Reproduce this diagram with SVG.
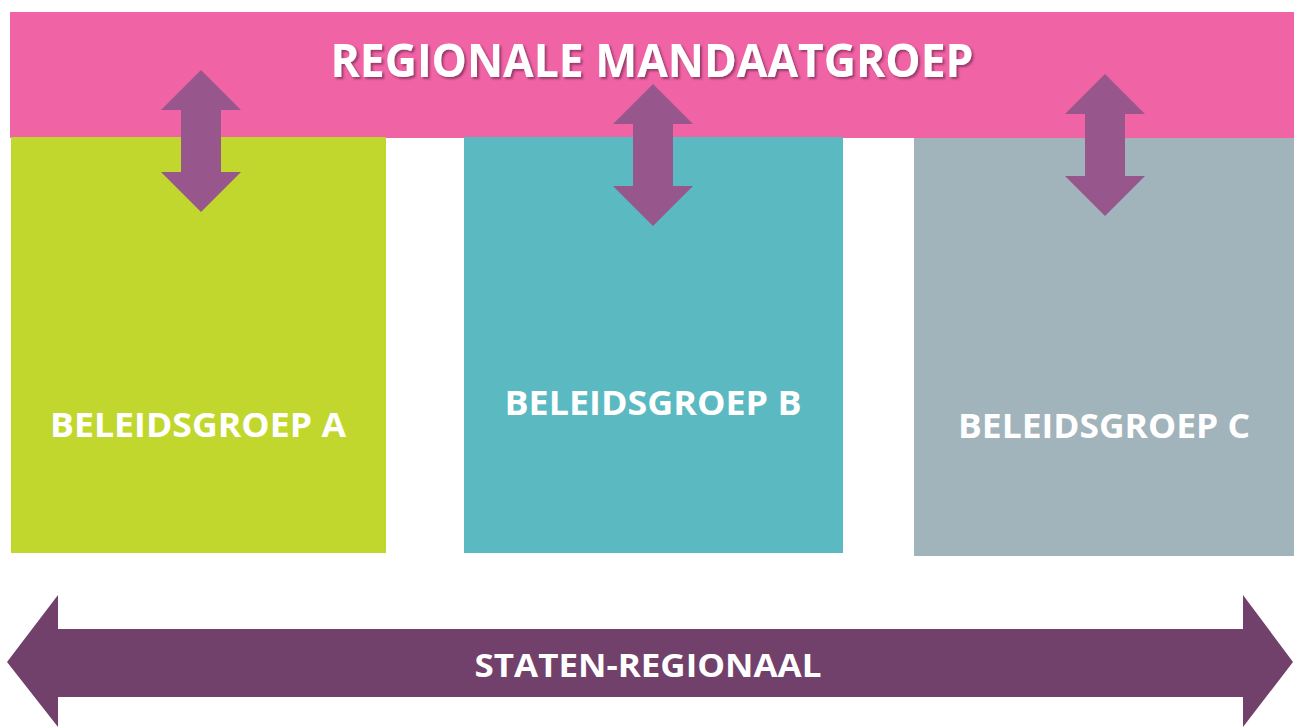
<svg xmlns="http://www.w3.org/2000/svg" width="1294" height="727" viewBox="0 0 1294 727">
  <style>
    .lbl { font-family: "Open Sans", "Liberation Sans", sans-serif; font-weight: bold; fill: #ffffff; text-anchor: middle; }
    .updown { fill: #97578D; }
  </style>
  <defs>
    <filter id="shadow" x="-5%" y="-20%" width="110%" height="150%">
      <feDropShadow dx="2" dy="2" stdDeviation="1.2" flood-color="#5a2040" flood-opacity="0.6"/>
    </filter>
  </defs>
  <rect width="1294" height="727" fill="#ffffff"/>

  <g id="mandaatgroep">
    <rect x="10" y="12" width="1284" height="126" fill="#F063A4"/>
    <text class="lbl" x="652" y="77" font-size="47" textLength="643" lengthAdjust="spacingAndGlyphs" filter="url(#shadow)">REGIONALE MANDAATGROEP</text>
  </g>

  <g id="beleidsgroep-a">
    <rect x="11" y="137" width="375" height="416" fill="#C2D72D"/>
    <text class="lbl" x="198" y="437" font-size="34" textLength="296" lengthAdjust="spacingAndGlyphs">BELEIDSGROEP A</text>
  </g>

  <g id="beleidsgroep-b">
    <rect x="464" y="137" width="379" height="416" fill="#5AB9C1"/>
    <text class="lbl" x="653" y="415" font-size="34" textLength="297" lengthAdjust="spacingAndGlyphs">BELEIDSGROEP B</text>
  </g>

  <g id="beleidsgroep-c">
    <rect x="914" y="138" width="380" height="418" fill="#A1B3BB"/>
    <text class="lbl" x="1104" y="438" font-size="34" textLength="292" lengthAdjust="spacingAndGlyphs">BELEIDSGROEP C</text>
  </g>

  <g id="staten-regionaal">
    <polygon points="7,662 58,595 58,629 1243,629 1243,595 1293,662 1243,727 1243,697 58,697 58,727" fill="#72416B"/>
    <text class="lbl" x="648" y="677" font-size="33" textLength="347" lengthAdjust="spacingAndGlyphs">STATEN-REGIONAAL</text>
  </g>

  <g id="connectors">
    <polygon class="updown" points="201,70 241,110 221,110 221,172 241,172 201,212 161,172 181,172 181,110 161,110"/>
    <polygon class="updown" points="653,84 693,124 673,124 673,186 693,186 653,226 613,186 633,186 633,124 613,124"/>
    <polygon class="updown" points="1105,74 1145,114 1125,114 1125,176 1145,176 1105,216 1065,176 1085,176 1085,114 1065,114"/>
  </g>
</svg>
